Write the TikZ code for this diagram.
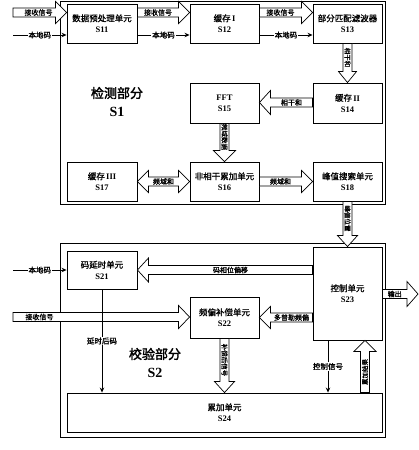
\documentclass[tikz,border=0pt]{standalone}
\usepackage{fontspec}
\setmainfont{Liberation Serif}
\newfontfamily\cj{Noto Sans CJK SC}[AutoFakeBold=1.2]
\newfontfamily\cjb{Noto Sans CJK SC}[AutoFakeBold=2.2]
\usetikzlibrary{calc,arrows.meta}
\def\sw{4.5pt}\def\hw{11pt}\def\hl{11pt}
% hollow arrows: [label fraction]{start}{end}{label}
\newcommand\hR[4][0.5]{%
 \draw[hol] let \p1=#2, \p2=#3 in (\x1,\y1+\sw) -- (\x2-\hl,\y1+\sw) -- (\x2-\hl,\y1+\hw) -- (\x2,\y1) -- (\x2-\hl,\y1-\hw) -- (\x2-\hl,\y1-\sw) -- (\x1,\y1-\sw) -- cycle
   ({\x1+#1*(\x2-\hl-\x1)},\y1) node[lab]{#4};}
\newcommand\hL[4][0.5]{%
 \draw[hol] let \p1=#2, \p2=#3 in (\x1,\y1+\sw) -- (\x2+\hl,\y1+\sw) -- (\x2+\hl,\y1+\hw) -- (\x2,\y1) -- (\x2+\hl,\y1-\hw) -- (\x2+\hl,\y1-\sw) -- (\x1,\y1-\sw) -- cycle
   ({\x1+#1*(\x2+\hl-\x1)},\y1) node[lab]{#4};}
\newcommand\hD[4][0.5]{%
 \draw[hol] let \p1=#2, \p2=#3 in (\x1-\sw,\y1) -- (\x1-\sw,\y2+\hl) -- (\x1-\hw,\y2+\hl) -- (\x1,\y2) -- (\x1+\hw,\y2+\hl) -- (\x1+\sw,\y2+\hl) -- (\x1+\sw,\y1) -- cycle
   (\x1,{\y1+#1*(\y2+\hl-\y1)}) node[vlab,rotate=-90]{#4};}
\newcommand\hU[4][0.5]{%
 \draw[hol] let \p1=#2, \p2=#3 in (\x1-\sw,\y1) -- (\x1-\sw,\y2-\hl) -- (\x1-\hw,\y2-\hl) -- (\x1,\y2) -- (\x1+\hw,\y2-\hl) -- (\x1+\sw,\y2-\hl) -- (\x1+\sw,\y1) -- cycle
   (\x1,{\y1+#1*(\y2-\hl-\y1)}) node[vlab,rotate=90]{#4};}
\newcommand\hLR[3]{%
 \draw[hol] let \p1=#1, \p2=#2 in (\x1,\y1) -- (\x1+\hl,\y1+\hw) -- (\x1+\hl,\y1+\sw) -- (\x2-\hl,\y1+\sw) -- (\x2-\hl,\y1+\hw) -- (\x2,\y1) -- (\x2-\hl,\y1-\hw) -- (\x2-\hl,\y1-\sw) -- (\x1+\hl,\y1-\sw) -- (\x1+\hl,\y1-\hw) -- cycle
   ({0.5*(\x1+\x2)},\y1) node[lab]{#3};}
\begin{document}
\begin{tikzpicture}[x=1pt,y=-1pt,
  box/.style={draw, line width=0.9pt, fill=white, align=center, inner sep=0pt,
    font=\cj\bfseries\fontsize{8.5}{11}\selectfont},
  frame/.style={draw, line width=1pt},
  hol/.style={draw, line width=0.7pt, fill=white},
  lab/.style={font=\cj\bfseries\fontsize{7}{7}\selectfont, inner sep=0.5pt},
  vlab/.style={font=\cj\bfseries\fontsize{6.5}{6.5}\selectfont, inner sep=0.5pt},
  thinarr/.style={draw, line width=0.7pt, -{Stealth[length=5pt,width=4.5pt]}},
  tlab/.style={font=\cj\bfseries\fontsize{7.5}{7.5}\selectfont, fill=white, inner sep=1pt},
  big/.style={font=\cjb\bfseries\fontsize{13}{15}\selectfont, align=center}]
\useasboundingbox (0,0) rectangle (419,450);
% frames
\draw[frame] (60,1.5) rectangle (385,204);
\draw[frame] (60,243) rectangle (385,437);
% S1 boxes
\node[box, minimum width=70pt, minimum height=39pt] (S11) at (102,23.5) {数据预处理单元\\\textbf{\rmfamily S11}};
\node[box, minimum width=69pt, minimum height=39pt] (S12) at (224.5,23.5) {缓存\,{\rmfamily I}\\\textbf{\rmfamily S12}};
\node[box, minimum width=69pt, minimum height=39pt] (S13) at (347.5,23.5) {部分匹配滤波器\\\textbf{\rmfamily S13}};
\node[box, minimum width=69pt, minimum height=40pt] (S14) at (347.5,103) {缓存\,{\rmfamily II}\\\textbf{\rmfamily S14}};
\node[box, minimum width=69pt, minimum height=40pt] (S15) at (224.5,103) {\textbf{\rmfamily FFT}\\\textbf{\rmfamily S15}};
\node[box, minimum width=69pt, minimum height=39pt] (S16) at (224.5,181.5) {非相干累加单元\\\textbf{\rmfamily S16}};
\node[box, minimum width=70pt, minimum height=39pt] (S17) at (102,181.5) {缓存\,{\rmfamily III}\\\textbf{\rmfamily S17}};
\node[box, minimum width=69pt, minimum height=39pt] (S18) at (347.5,181.5) {峰值搜索单元\\\textbf{\rmfamily S18}};
\node[big] (L1) at (117,93) {检测部分};
\node[font=\bfseries\fontsize{14}{16}\selectfont] (L1b) at (117,112) {S1};
% S2 boxes
\node[box, minimum width=70pt, minimum height=38pt] (S21) at (102,270) {码延时单元\\\textbf{\rmfamily S21}};
\node[box, minimum width=69pt, minimum height=41pt] (S22) at (224.5,317.5) {频偏补偿单元\\\textbf{\rmfamily S22}};
\node[box, minimum width=69pt, minimum height=93pt] (S23) at (347.5,293.5) {控制单元\\\textbf{\rmfamily S23}};
\node[box, minimum width=315pt, minimum height=39pt] (S24) at (224.5,412.5) {累加单元\\\textbf{\rmfamily S24}};
\node[big] (L2) at (155,354) {校验部分};
\node[font=\bfseries\fontsize{14}{16}\selectfont] (L2b) at (155,373) {S2};
% free ends
\coordinate (inA) at (13,12.5);
\coordinate (inB) at (13,35);
\coordinate (inC) at (13,270);
\coordinate (inD) at (13,317);
\coordinate (out) at (418,294);
\coordinate (cx) at (328,0);
\coordinate (ux) at (365,0);
% S1 connectors
\hR[0.6]{(inA)}{(S11.west |- inA)}{接收信号}
\draw[thinarr] (inB) -- node[tlab]{本地码} (S11.west |- inB);
\hR{(S11.east |- inA)}{(S12.west |- inA)}{接收信号}
\draw[thinarr] (S11.east |- inB) -- node[tlab]{本地码} (S12.west |- inB);
\hR{(S12.east |- inA)}{(S13.west |- inA)}{接收信号}
\draw[thinarr] (S12.east |- inB) -- node[tlab]{本地码} (S13.west |- inB);
\def\hw{9pt}
\hD{(S13.south)}{(S14.north)}{相干和}
\def\hw{12pt}
\hL{(S14.west |- 0,102.5)}{(S15.east |- 0,102.5)}{相干和}
\def\hw{11pt}
\hD{(S15.south)}{(S16.north)}{频域数据}
\hR{(S16.east)}{(S18.west)}{频域和}
\hLR{(S17.east)}{(S16.west)}{频域和}
\def\hw{10pt}
\hD{(S18.south)}{(S23.north)}{峰值位置}
% S2 connectors
\def\hw{12pt}
\draw[thinarr] (inC) -- node[tlab]{本地码} (S21.west);
\hL{(S23.west |- S21)}{(S21.east)}{码相位偏移}
\def\hw{11.5pt}
\hR[0.16]{(inD)}{(S22.west |- inD)}{接收信号}
\def\hw{11pt}
\hL{(S23.west |- S22)}{(S22.east)}{多普勒频偏}
\def\hw{12.5pt}
\hR{(S23.east |- out)}{(out)}{输出}
\draw[thinarr] (S21.south) -- node[tlab]{延时后码} (S21.south |- S24.north);
\def\hw{10pt}
\hD{(S22.south)}{(S22.south |- S24.north)}{补偿后信号}
\draw[thinarr] (S23.south -| cx) -- node[tlab]{控制信号} (S24.north -| cx);
\def\hw{11pt}
\hU{(S24.north -| ux)}{(S23.south -| ux)}{累加结果}
\end{tikzpicture}
\end{document}
